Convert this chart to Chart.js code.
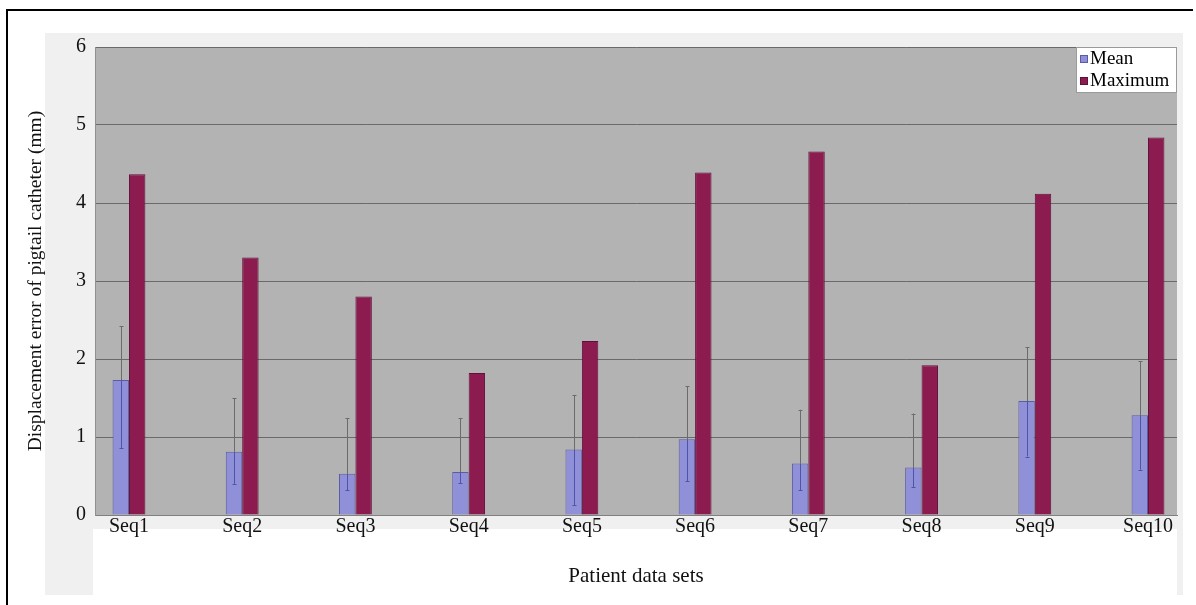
<!DOCTYPE html>
<html>
<head>
<meta charset="utf-8">
<script src="https://cdn.jsdelivr.net/npm/chart.js@4.4.1/dist/chart.umd.min.js"></script>
<style>
html,body{margin:0;padding:0;background:#fff;}
#wrap{width:1196px;height:605px;}
</style>
</head>
<body>
<div id="wrap"><canvas id="c" width="1196" height="605"></canvas></div>
<script>
const categories = ['Seq1','Seq2','Seq3','Seq4','Seq5','Seq6','Seq7','Seq8','Seq9','Seq10'];
const meanVals = [1.73, 0.81, 0.53, 0.55, 0.84, 0.97, 0.66, 0.61, 1.46, 1.28];
const maxVals  = [4.37, 3.30, 2.80, 1.82, 2.23, 4.39, 4.66, 1.92, 4.12, 4.84];
const errHigh  = [2.42, 1.50, 1.24, 1.24, 1.54, 1.65, 1.35, 1.30, 2.15, 1.97];
const errLow   = [0.86, 0.40, 0.32, 0.41, 0.13, 0.43, 0.32, 0.36, 0.75, 0.58];
const yTicks = [0, 1, 2, 3, 4, 5, 6];
const seriesNames = ['Mean', 'Maximum'];

const FONT = "'Liberation Serif', 'DejaVu Serif', serif";
const meanColor = '#8f90d8', meanBorder = '#5b5ca6';
const maxColor = '#8c1b50', maxBorder = '#621039';

const decor = {
  id: 'decor',
  beforeDraw(chart) {
    const ctx = chart.ctx, a = chart.chartArea;
    ctx.save();
    ctx.fillStyle = '#ffffff';
    ctx.fillRect(0, 0, chart.width, chart.height);
    ctx.fillStyle = '#f0f0f0';
    ctx.fillRect(45, 33, 1138, 562);
    ctx.fillStyle = '#ffffff';
    ctx.fillRect(93, 529, 1084, 66);
    ctx.fillStyle = '#000000';
    ctx.fillRect(6, 9, 2, 596);
    ctx.fillRect(6, 9, 1187, 2);
    ctx.fillStyle = '#b3b3b3';
    ctx.fillRect(a.left, a.top, a.right - a.left, a.bottom - a.top);
    ctx.restore();
  },
  afterDatasetsDraw(chart) {
    const ctx = chart.ctx, ys = chart.scales.y;
    const meta = chart.getDatasetMeta(0);
    ctx.save();
    ctx.lineWidth = 1;
    meta.data.forEach((bar, i) => {
      const x = Math.round(bar.x) + 0.5;
      const yTop = ys.getPixelForValue(errHigh[i]);
      const yMid = ys.getPixelForValue(meanVals[i]);
      const yBot = ys.getPixelForValue(errLow[i]);
      ctx.strokeStyle = '#6b6b6b';
      ctx.beginPath(); ctx.moveTo(x, yTop); ctx.lineTo(x, yMid); ctx.stroke();
      ctx.strokeStyle = '#4d55a8';
      ctx.beginPath(); ctx.moveTo(x, yMid); ctx.lineTo(x, yBot); ctx.stroke();
      ctx.strokeStyle = '#6b6b6b';
      ctx.beginPath(); ctx.moveTo(x - 2, Math.round(yTop) + 0.5); ctx.lineTo(x + 2, Math.round(yTop) + 0.5); ctx.stroke();
      ctx.strokeStyle = '#4d55a8';
      ctx.beginPath(); ctx.moveTo(x - 2, Math.round(yBot) + 0.5); ctx.lineTo(x + 2, Math.round(yBot) + 0.5); ctx.stroke();
    });
    ctx.restore();
  },
  afterDraw(chart) {
    const ctx = chart.ctx;
    ctx.save();
    ctx.fillStyle = '#ffffff';
    ctx.fillRect(1076, 47, 101, 46);
    ctx.strokeStyle = '#9a9a9a';
    ctx.lineWidth = 1;
    ctx.strokeRect(1076.5, 47.5, 100, 45);
    const cols = [[meanColor, meanBorder], [maxColor, maxBorder]];
    ctx.font = '19px ' + FONT;
    ctx.textBaseline = 'middle';
    seriesNames.forEach((n, i) => {
      const cy = 59 + i * 22;
      ctx.fillStyle = cols[i][0];
      ctx.fillRect(1080, cy - 4, 8, 8);
      ctx.strokeStyle = cols[i][1];
      ctx.strokeRect(1080.5, cy - 3.5, 7, 7);
      ctx.fillStyle = '#000';
      ctx.fillText(n, 1090, cy);
    });
    ctx.restore();
  }
};

new Chart(document.getElementById('c'), {
  type: 'bar',
  data: {
    datasets: [
      { label: seriesNames[0], data: meanVals.map((v, i) => ({ x: i + 1, y: v })),
        backgroundColor: meanColor, borderColor: meanBorder, borderWidth: 1 },
      { label: seriesNames[1], data: maxVals.map((v, i) => ({ x: i + 1, y: v })),
        backgroundColor: maxColor, borderColor: maxBorder, borderWidth: 1 }
    ]
  },
  options: {
    responsive: false,
    animation: false,
    layout: { padding: { top: 47, right: 19, left: 0, bottom: 0 } },
    datasets: { bar: { barPercentage: 1.0, categoryPercentage: 0.29 } },
    plugins: { legend: { display: false }, tooltip: { enabled: false } },
    scales: {
      x: {
        type: 'linear',
        offset: false,
        min: 0.7,
        max: 10.256,
        afterBuildTicks(scale) { scale.ticks = categories.map((c, i) => ({ value: i + 1 })); },
        afterFit(scale) { scale.height = 90; },
        grid: { display: false, drawTicks: false },
        border: { display: true, color: '#808080', width: 1 },
        ticks: {
          autoSkip: false, maxRotation: 0, padding: 0, color: '#111',
          font: { family: FONT, size: 20 },
          callback: (v) => categories[v - 1]
        },
        title: { display: true, text: 'Patient data sets', color: '#111',
          font: { family: FONT, size: 21 }, padding: { top: 0, bottom: 16 } }
      },
      y: {
        min: 0, max: 6,
        afterBuildTicks(scale) { scale.ticks = yTicks.map(v => ({ value: v })); },
        afterFit(scale) { scale.width = 95; },
        grid: { color: '#6a6a6a', drawTicks: false, lineWidth: 1 },
        border: { display: true, color: '#909090', width: 1 },
        ticks: { padding: 9, color: '#111', font: { family: FONT, size: 20 } },
        title: { display: true, text: 'Displacement error of pigtail catheter (mm)', color: '#111',
          font: { family: FONT, size: 19.5 }, padding: { top: 24, bottom: 0 } }
      }
    }
  },
  plugins: [decor]
});
</script>
</body>
</html>
